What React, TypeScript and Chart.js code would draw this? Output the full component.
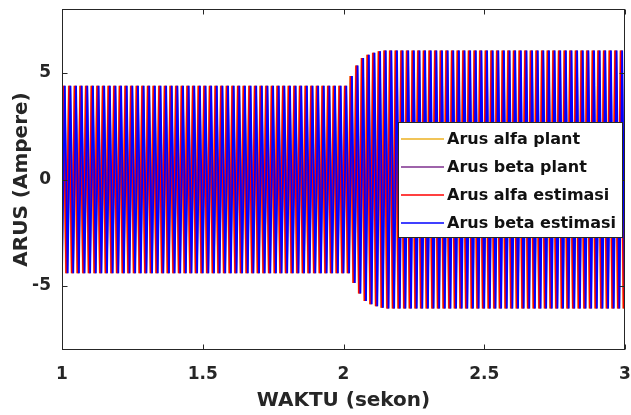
import React, { useEffect, useRef } from "react";
import { Chart, registerables } from "chart.js";

Chart.register(...registerables);

// ---- data ----
const xTicks = [1, 1.5, 2, 2.5, 3];
const yTicks = [-5, 0, 5];
const xRange = [1, 3];
const yRange = [-8, 8];
const xTitle = "WAKTU (sekon)";
const yTitle = "ARUS (Ampere)";

const seriesLabels = [
  "Arus alfa plant",
  "Arus beta plant",
  "Arus alfa estimasi",
  "Arus beta estimasi",
];
const seriesColors = ["#EDB120", "#7E2F8E", "#FF0000", "#0000FF"];
// fraction of a cycle at which each series reaches its positive peak
const seriesPhase = [0.2, 0.45, 0.25, 0.5];

const cycleStart = 1; // s
const cyclePeriod = 0.02; // s (50 Hz, ~5.6 px per cycle in the picture)
// peak amplitude of each of the 100 cycles between 1 s and 3 s (A)
const cycleAmplitude = [
  4.4, 4.4, 4.4, 4.4, 4.4, 4.4, 4.4, 4.4, 4.4, 4.4,
  4.4, 4.4, 4.4, 4.4, 4.4, 4.4, 4.4, 4.4, 4.4, 4.4,
  4.4, 4.4, 4.4, 4.4, 4.4, 4.4, 4.4, 4.4, 4.4, 4.4,
  4.4, 4.4, 4.4, 4.4, 4.4, 4.4, 4.4, 4.4, 4.4, 4.4,
  4.4, 4.4, 4.4, 4.4, 4.4, 4.4, 4.4, 4.4, 4.4, 4.4,
  4.4, 4.85, 5.35, 5.7, 5.85, 5.95, 6.02, 6.05, 6.05, 6.05,
  6.05, 6.05, 6.05, 6.05, 6.05, 6.05, 6.05, 6.05, 6.05, 6.05,
  6.05, 6.05, 6.05, 6.05, 6.05, 6.05, 6.05, 6.05, 6.05, 6.05,
  6.05, 6.05, 6.05, 6.05, 6.05, 6.05, 6.05, 6.05, 6.05, 6.05,
  6.05, 6.05, 6.05, 6.05, 6.05, 6.05, 6.05, 6.05, 6.05, 6.05,
];

const FONT = "'DejaVu Sans', 'Liberation Sans', Arial, sans-serif";
const INK = "#262626";

function buildSeries(phase: number) {
  const pts: { x: number; y: number }[] = [];
  for (let k = -1; k < cycleAmplitude.length; k++) {
    const a = cycleAmplitude[Math.max(k, 0)];
    const tPeak = cycleStart + (k + phase) * cyclePeriod;
    pts.push({ x: tPeak, y: a });
    pts.push({ x: tPeak + cyclePeriod / 2, y: -a });
  }
  return pts;
}

const boxPlugin = {
  id: "matlabBox",
  afterDatasetsDraw(chart: any) {
    const { ctx, chartArea: a, scales } = chart;
    const L = Math.round(a.left) + 0.5;
    const R = Math.round(a.right) - 0.5;
    const T = Math.round(a.top) + 0.5;
    const B = Math.round(a.bottom) - 0.5;
    ctx.save();
    ctx.strokeStyle = INK;
    ctx.lineWidth = 1;
    ctx.strokeRect(L, T, R - L, B - T);
    const tl = 5;
    ctx.beginPath();
    for (const v of xTicks) {
      const x = Math.round(scales.x.getPixelForValue(v)) + 0.5;
      ctx.moveTo(x, B);
      ctx.lineTo(x, B - tl);
      ctx.moveTo(x, T);
      ctx.lineTo(x, T + tl);
    }
    for (const v of yTicks) {
      const y = Math.round(scales.y.getPixelForValue(v)) + 0.5;
      ctx.moveTo(L, y);
      ctx.lineTo(L + tl, y);
      ctx.moveTo(R, y);
      ctx.lineTo(R - tl, y);
    }
    ctx.stroke();
    ctx.restore();
  },
};

const legendPlugin = {
  id: "matlabLegend",
  afterDraw(chart: any) {
    const { ctx } = chart;
    const left = 398;
    const top = 122;
    const w = 224;
    const h = 115;
    ctx.save();
    ctx.fillStyle = "#ffffff";
    ctx.fillRect(left, top, w, h);
    ctx.strokeStyle = INK;
    ctx.lineWidth = 1;
    ctx.strokeRect(left + 0.5, top + 0.5, w, h);
    ctx.font = `bold 16px ${FONT}`;
    ctx.textBaseline = "middle";
    ctx.textAlign = "left";
    chart.data.datasets.forEach((ds: any, i: number) => {
      const y = top + 17 + i * 28;
      ctx.strokeStyle = ds.borderColor;
      ctx.lineWidth = 1.5;
      ctx.beginPath();
      ctx.moveTo(left + 3, y);
      ctx.lineTo(left + 46, y);
      ctx.stroke();
      ctx.fillStyle = "#111";
      ctx.fillText(ds.label, left + 49, y + 1);
    });
    ctx.restore();
  },
};

export default function App() {
  const ref = useRef<HTMLCanvasElement | null>(null);

  useEffect(() => {
    if (!ref.current) return;
    const datasets = seriesLabels.map((label, i) => ({
      label,
      data: buildSeries(seriesPhase[i]),
      borderColor: seriesColors[i],
      backgroundColor: seriesColors[i],
      borderWidth: 1.8,
      pointRadius: 0,
      tension: 0,
      fill: false,
      order: seriesLabels.length - i,
    }));
    const chart = new Chart(ref.current, {
      type: "line",
      data: { datasets },
      plugins: [boxPlugin, legendPlugin],
      options: {
        animation: false,
        responsive: true,
        maintainAspectRatio: false,
        layout: { padding: { top: 9, right: 6, left: 0, bottom: 0 } },
        plugins: {
          legend: { display: false },
          tooltip: { enabled: false },
        },
        scales: {
          x: {
            type: "linear",
            min: xRange[0],
            max: xRange[1],
            grid: { display: false, drawTicks: false },
            border: { display: false },
            afterBuildTicks: (s: any) => {
              s.ticks = xTicks.map((v) => ({ value: v }));
            },
            afterFit: (s: any) => {
              s.height = 65;
              s.paddingLeft = 0;
              s.paddingRight = 0;
            },
            ticks: {
              autoSkip: false,
              maxRotation: 0,
              padding: 14,
              color: INK,
              font: { family: FONT, size: 17, weight: "bold" },
              callback: (v: any) => String(v),
            },
            title: {
              display: true,
              text: xTitle,
              color: INK,
              font: { family: FONT, size: 20, weight: "bold" },
              padding: { top: 0, bottom: 2 },
            },
          },
          y: {
            type: "linear",
            min: yRange[0],
            max: yRange[1],
            grid: { display: false, drawTicks: false },
            border: { display: false },
            afterBuildTicks: (s: any) => {
              s.ticks = yTicks.map((v) => ({ value: v }));
            },
            afterFit: (s: any) => {
              s.width = 62;
              s.paddingTop = 0;
              s.paddingBottom = 0;
            },
            ticks: {
              autoSkip: false,
              padding: 11,
              color: INK,
              font: { family: FONT, size: 17, weight: "bold", lineHeight: 1 },
              callback: (v: any) => String(v),
            },
            title: {
              display: true,
              text: yTitle,
              color: INK,
              font: { family: FONT, size: 20, weight: "bold" },
              padding: { top: 10, bottom: 0 },
            },
          },
        },
      } as any,
    });
    return () => chart.destroy();
  }, []);

  return (
    <div style={{ position: "absolute", left: 0, top: 0, width: 631, height: 415, background: "#fff" }}>
      <canvas ref={ref} />
    </div>
  );
}
